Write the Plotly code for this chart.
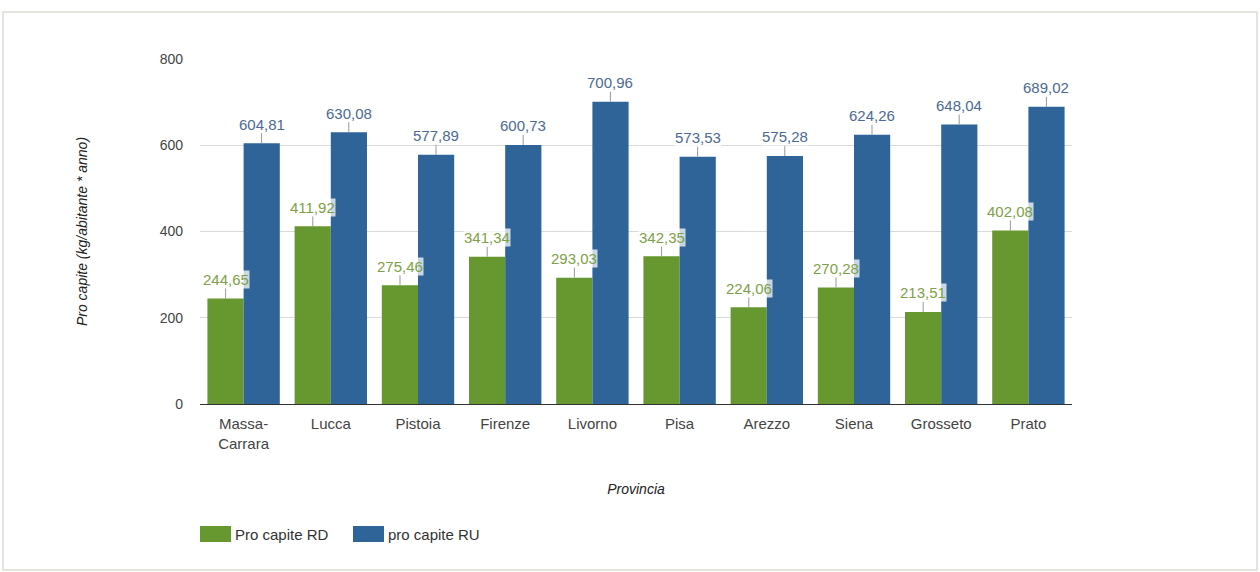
import plotly.graph_objects as go

province = ["Massa-<br>Carrara", "Lucca", "Pistoia", "Firenze", "Livorno",
            "Pisa", "Arezzo", "Siena", "Grosseto", "Prato"]
rd = [244.65, 411.92, 275.46, 341.34, 293.03, 342.35, 224.06, 270.28, 213.51, 402.08]
ru = [604.81, 630.08, 577.89, 600.73, 700.96, 573.53, 575.28, 624.26, 648.04, 689.02]
series_names = ["Pro capite RD", "pro capite RU"]
y_ticks = [0, 200, 400, 600, 800]

GREEN = "#67972f"
BLUE = "#2f6498"
GREEN_TXT = "#7ea048"
BLUE_TXT = "#4d6a92"
FONT = "Liberation Sans, Arial, sans-serif"

# plot area geometry (pixels)
L, R, T, B = 200, 1072, 59, 404
PW, PH = R - L, B - T

def px_x(p):
    return (p - L) / PW

def px_y(p):
    return (B - p) / PH

def fmt(v):
    return f"{v:.2f}".replace(".", ",")

fig = go.Figure()
fig.add_trace(go.Bar(name=series_names[0], x=province, y=rd, marker_color=GREEN,
                     marker_line_width=0, showlegend=False))
fig.add_trace(go.Bar(name=series_names[1], x=province, y=ru, marker_color=BLUE,
                     marker_line_width=0, showlegend=False))

annotations = []
for vals, shift, col in ((rd, -18, GREEN_TXT), (ru, 18, BLUE_TXT)):
    for cat, v in zip(province, vals):
        annotations.append(dict(x=cat, y=v, xref="x", yref="y", xshift=shift,
                                text=fmt(v), showarrow=True, arrowhead=0, arrowwidth=1,
                                arrowcolor="#999999", ax=0, ay=-19, standoff=0,
                                font=dict(family=FONT, size=15, color=col),
                                bgcolor="rgba(255,255,255,0.75)", borderpad=0))

# custom legend (larger swatches, like the reference)
shapes = [dict(type="rect", xref="paper", yref="paper",
               x0=px_x(3), x1=px_x(1257), y0=px_y(570), y1=px_y(12),
               line=dict(color="#dcdcd4", width=1.5), fillcolor="rgba(0,0,0,0)",
               layer="below")]
legend_items = [(series_names[0], GREEN, 200), (series_names[1], BLUE, 353)]
for name, col, x0 in legend_items:
    shapes.append(dict(type="rect", xref="paper", yref="paper",
                       x0=px_x(x0), x1=px_x(x0 + 31), y0=px_y(542), y1=px_y(526),
                       line=dict(width=0), fillcolor=col))
    annotations.append(dict(x=px_x(x0 + 33), y=px_y(534), xref="paper", yref="paper",
                            xanchor="left", yanchor="middle", showarrow=False,
                            text=name, font=dict(family=FONT, size=15, color="#333333")))

fig.update_layout(
    width=1260, height=572,
    margin=dict(l=L, r=1260 - R, t=T, b=572 - B),
    paper_bgcolor="white", plot_bgcolor="white",
    barmode="group", bargap=0.17, bargroupgap=0,
    font=dict(family=FONT, size=14, color="#444444"),
    annotations=annotations,
    shapes=shapes,
    showlegend=False,
)
fig.update_yaxes(range=[0, 800], tickvals=y_ticks, showgrid=True, gridcolor="#d9d9d9",
                 gridwidth=1, zeroline=False, showline=False,
                 tickfont=dict(family=FONT, size=14, color="#444444"),
                 ticklabelstandoff=16,
                 title=dict(text="<i>Pro capite (kg/abitante * anno)</i>", standoff=68,
                            font=dict(family=FONT, size=14, color="#222222")),
                 automargin=False)
fig.update_xaxes(showline=True, linecolor="#333333", linewidth=1, showgrid=False,
                 tickfont=dict(family=FONT, size=15, color="#444444"),
                 ticks="", ticklabelstandoff=6,
                 title=dict(text="<i>Provincia</i>", standoff=33,
                            font=dict(family=FONT, size=14, color="#222222")),
                 automargin=False)

fig.write_html("out.html", config={"displayModeBar": False},
               post_script="document.body.style.margin='0px';")
